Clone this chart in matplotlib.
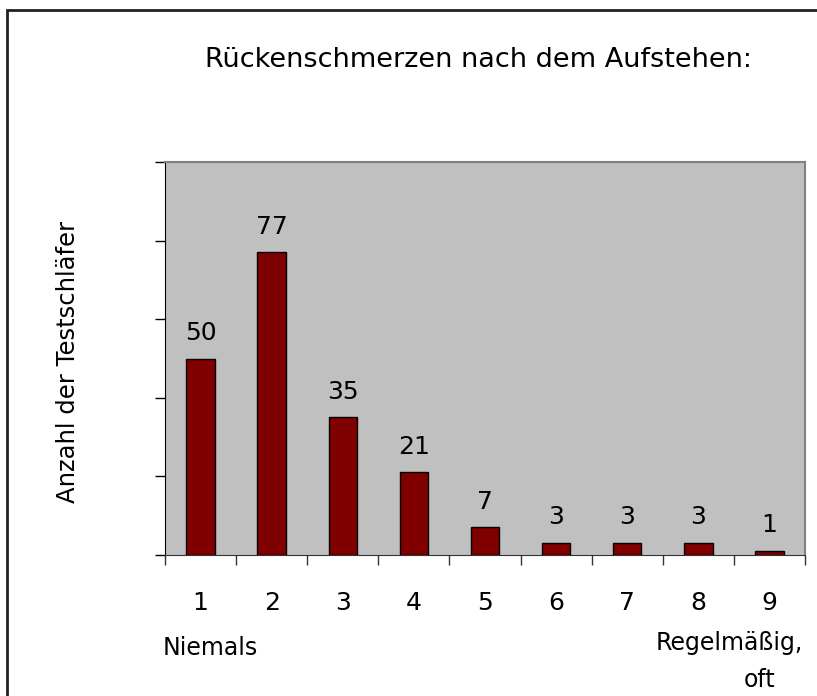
import matplotlib.pyplot as plt
import matplotlib
from matplotlib.patches import Rectangle

matplotlib.rcParams['font.family'] = ['DejaVu Sans']

# Data
categories = [1, 2, 3, 4, 5, 6, 7, 8, 9]
counts = [50, 77, 35, 21, 7, 3, 3, 3, 1]
title = 'Rückenschmerzen nach dem Aufstehen:'
ylabel = 'Anzahl der Testschläfer'

fig = plt.figure(figsize=(8.17, 6.96), dpi=100, facecolor='white')

# Outer frame (only top and left visible in the reference)
fig.patches.append(Rectangle((7 / 817, -0.1), 1.1, (696 - 10) / 696 + 0.1,
                             transform=fig.transFigure, fill=False,
                             edgecolor='#222222', linewidth=2, zorder=0))

ax = fig.add_axes([165 / 817, 1 - 555 / 696, 640 / 817, 393 / 696])
ax.set_facecolor('#C0C0C0')

bars = ax.bar(categories, counts, width=0.4, color='#800000',
              edgecolor='black', linewidth=1, zorder=2)

for x, v in zip(categories, counts):
    ax.annotate(str(v), (x, v), xytext=(0, 10), textcoords='offset points',
                ha='center', va='bottom', fontsize=18)

ax.set_xlim(0.5, 9.5)
ax.set_ylim(0, 100)
ax.set_yticks(range(0, 101, 20))
ax.set_yticklabels([])
ax.tick_params(axis='y', direction='out', length=7, width=1)

ax.set_xticks(categories)
ax.set_xticklabels([str(c) for c in categories], fontsize=18)
ax.set_xticks([c + 0.5 for c in [0] + categories], minor=True)
ax.tick_params(axis='x', which='major', length=0, pad=26)
ax.tick_params(axis='x', which='minor', direction='out', length=7, width=1, color='#333333')

for side in ['top', 'right']:
    ax.spines[side].set_color('#808080')
    ax.spines[side].set_linewidth(1.5)
ax.spines['left'].set_color('black')
ax.spines['bottom'].set_color('#333333')

fig.text(478 / 817, 1 - 60 / 696, title, ha='center', va='center', fontsize=19.5)
fig.text(68 / 817, 1 - 362 / 696, ylabel, ha='center', va='center',
         rotation=90, fontsize=17.5)
fig.text(163 / 817, 1 - 648 / 696, 'Niemals', ha='left', va='center', fontsize=17)
fig.text(729 / 817, 1 - 643 / 696, 'Regelmäßig,', ha='center', va='center', fontsize=17)
fig.text(760 / 817, 1 - 680 / 696, 'oft', ha='center', va='center', fontsize=17)

fig.savefig('out.png', dpi=100)
